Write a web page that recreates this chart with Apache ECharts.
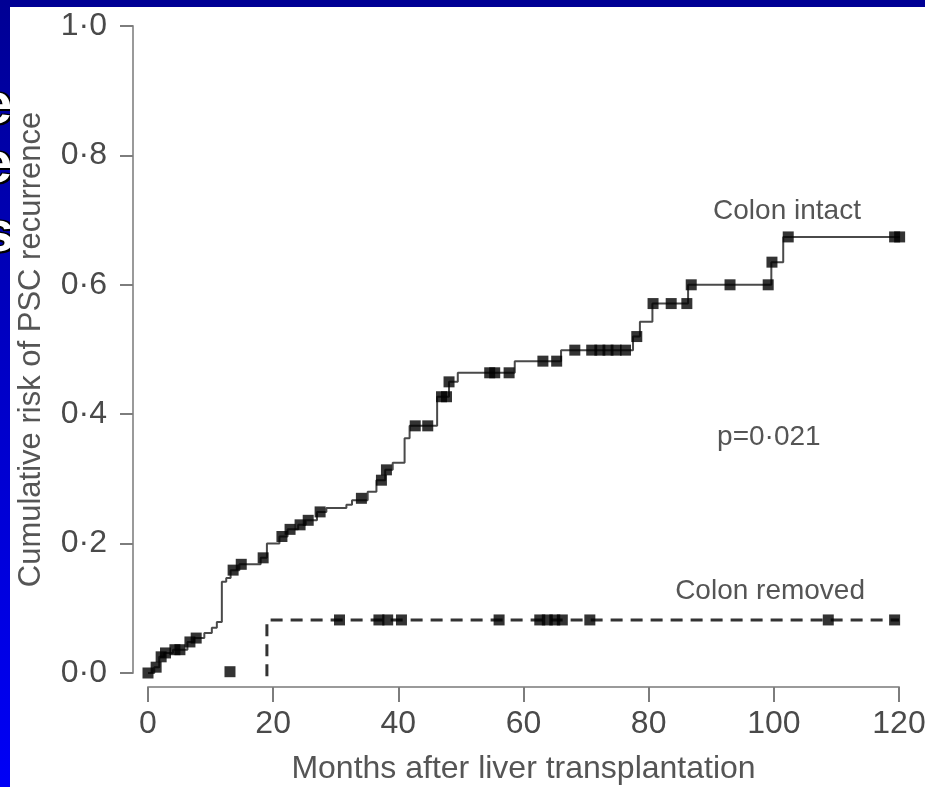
<!DOCTYPE html>
<html><head><meta charset="utf-8">
<script src="https://cdn.jsdelivr.net/npm/echarts@6/dist/echarts.min.js"></script>
<style>
html,body{margin:0;padding:0;width:925px;height:787px;overflow:hidden;}
body{background:linear-gradient(to bottom,#000094 0%,#0000c4 45%,#0000f6 100%);position:relative;}
.frag{position:absolute;color:#fff;font:bold 58px 'Liberation Sans',Arial,sans-serif;line-height:1;text-shadow:2px 2px 0 #000,-1px -1px 0 #000,2px -1px 0 #000,-1px 2px 0 #000;}
#panel{position:absolute;left:10px;top:7px;width:915px;height:780px;background:#fff;}
#chart{position:absolute;left:0;top:0;width:925px;height:787px;}
</style></head>
<body>
<span class="frag" style="left:-20px;top:74px">e</span>
<span class="frag" style="left:-20px;top:133px">e</span>
<span class="frag" style="left:-18px;top:202px">s</span>
<div id="panel"></div>
<div id="chart"></div>
<script>
// ---- data ----
const xTicks = [0, 20, 40, 60, 80, 100, 120];
const yTickLabels = ['0·0', '0·2', '0·4', '0·6', '0·8', '1·0'];

// Colon intact: event times (months) and cumulative risk after each step
const intactTimes = [0, 1.0, 1.8, 2.6, 4.0, 6.3, 7.4, 9.0, 10.2, 11.0, 11.8, 12.5, 13.2, 14.6, 18.0, 19.0,
  21.0, 22.3, 24.0, 25.2, 27.0, 28.5, 31.7, 32.6, 35.1, 36.5, 37.9, 39.1, 41.0, 41.8, 46.2, 48.1, 49.5,
  58.6, 66.0, 77.5, 78.6, 80.6, 86.3, 99.6, 101.5, 120.4];
const intactRisk = [0, 0.009, 0.025, 0.031, 0.036, 0.048, 0.054, 0.062, 0.070, 0.079, 0.141, 0.147, 0.159, 0.168, 0.178, 0.200,
  0.211, 0.222, 0.229, 0.236, 0.249, 0.255, 0.260, 0.267, 0.280, 0.298, 0.314, 0.325, 0.363, 0.382, 0.427, 0.450, 0.464,
  0.482, 0.499, 0.520, 0.543, 0.571, 0.600, 0.635, 0.674, 0.739];
// Colon intact: censoring marks
const intactCensorTimes = [0, 1.3, 2.1, 2.8, 4.3, 5.1, 6.7, 7.7, 13.6, 14.9, 18.4, 21.4, 22.7, 24.3, 25.6, 27.5,
  34.1, 37.3, 38.1, 42.7, 44.7, 46.9, 47.7, 48.1, 54.6, 55.4, 57.7, 63.1, 65.3, 68.2, 70.9, 72.2, 73.5, 74.8, 76.3,
  78.1, 80.7, 83.6, 86.1, 86.8, 93.0, 99.1, 99.7, 102.3, 119.3, 120.1];
const intactCensorRisk = [0, 0.009, 0.025, 0.031, 0.036, 0.036, 0.048, 0.054, 0.159, 0.168, 0.178, 0.211, 0.222, 0.229, 0.236, 0.249,
  0.270, 0.298, 0.314, 0.382, 0.382, 0.427, 0.427, 0.450, 0.464, 0.464, 0.464, 0.482, 0.482, 0.499, 0.499, 0.499, 0.499, 0.499, 0.499,
  0.520, 0.571, 0.571, 0.571, 0.600, 0.600, 0.600, 0.635, 0.674, 0.674, 0.674];

// Colon removed
const removedTimes = [19.0, 19.0, 120.0];
const removedRisk = [-0.005, 0.082, 0.082];
const removedCensorTimes = [13.1, 30.6, 36.9, 38.3, 40.5, 56.1, 62.6, 63.8, 65.0, 66.2, 70.6, 108.7, 119.3];
const removedCensorRisk = [0.002, 0.082, 0.082, 0.082, 0.082, 0.082, 0.082, 0.082, 0.082, 0.082, 0.082, 0.082, 0.082];

const annotations = [
  { text: 'Colon intact', at: [102.1, 0.714] },
  { text: 'p=0·021', at: [99.2, 0.365] },
  { text: 'Colon removed', at: [99.4, 0.126] }
];

// ---- chart ----
const FONT = "'Liberation Sans', Arial, Helvetica, sans-serif";
const zip = (a, b) => a.map((v, i) => [v, b[i]]);
const chart = echarts.init(document.getElementById('chart'), null, { renderer: 'canvas' });

const axisColor = '#9a9a9a';
chart.setOption({
  animation: false,
  backgroundColor: 'transparent',
  grid: { left: 148, right: 26, top: 26, bottom: 114, containLabel: false, outerBoundsMode: 'none' },
  xAxis: {
    type: 'value', min: xTicks[0], max: xTicks[xTicks.length - 1], interval: xTicks[1] - xTicks[0], offset: 14,
    axisLine: { show: true, onZero: false, lineStyle: { color: axisColor, width: 2 } },
    axisTick: { show: true, length: 15, lineStyle: { color: '#7d7d7d', width: 2 } },
    axisLabel: { margin: 21, fontSize: 32, color: '#4a4a4a', fontFamily: FONT, showMaxLabel: true, hideOverlap: false },
    splitLine: { show: false },
    name: 'Months after liver transplantation', nameLocation: 'middle', nameGap: 66, nameMoveOverlap: false,
    nameTextStyle: { fontSize: 32, color: '#555', fontFamily: FONT }
  },
  yAxis: {
    type: 'value', min: 0, max: 1, interval: 0.2, offset: 15,
    axisLine: { show: true, onZero: false, lineStyle: { color: axisColor, width: 2 } },
    axisTick: { show: true, length: 13, lineStyle: { color: '#7d7d7d', width: 2 } },
    axisLabel: { margin: 26, fontSize: 32, color: '#4a4a4a', fontFamily: FONT,
      formatter: v => yTickLabels[Math.round(v / 0.2)] },
    splitLine: { show: false },
    name: 'Cumulative risk of PSC recurrence', nameLocation: 'middle', nameGap: 86, nameMoveOverlap: false,
    nameTextStyle: { fontSize: 31, color: '#555', fontFamily: FONT }
  },
  series: [
    { name: 'Colon intact', type: 'line', step: 'end', data: zip(intactTimes, intactRisk), symbol: 'none',
      clip: false, lineStyle: { color: '#4a4a4a', width: 2 } },
    { name: 'Colon removed', type: 'line', data: zip(removedTimes, removedRisk), symbol: 'none',
      clip: false, lineStyle: { color: '#333', width: 3, type: [12, 8] } },
    { name: 'Colon intact censored', type: 'scatter', data: zip(intactCensorTimes, intactCensorRisk),
      symbol: 'rect', symbolSize: 11, clip: false, itemStyle: { color: '#000' }, z: 5 },
    { name: 'Colon removed censored', type: 'scatter', data: zip(removedCensorTimes, removedCensorRisk),
      symbol: 'rect', symbolSize: 11, clip: false, itemStyle: { color: '#000' }, z: 5 }
  ]
});

chart.setOption({
  graphic: annotations.map(a => {
    const p = chart.convertToPixel({ gridIndex: 0 }, a.at);
    return { type: 'text', x: p[0], y: p[1], style: { text: a.text, font: "28px " + FONT, fill: '#555',
      align: 'center', verticalAlign: 'middle' } };
  })
});
</script>
</body></html>
